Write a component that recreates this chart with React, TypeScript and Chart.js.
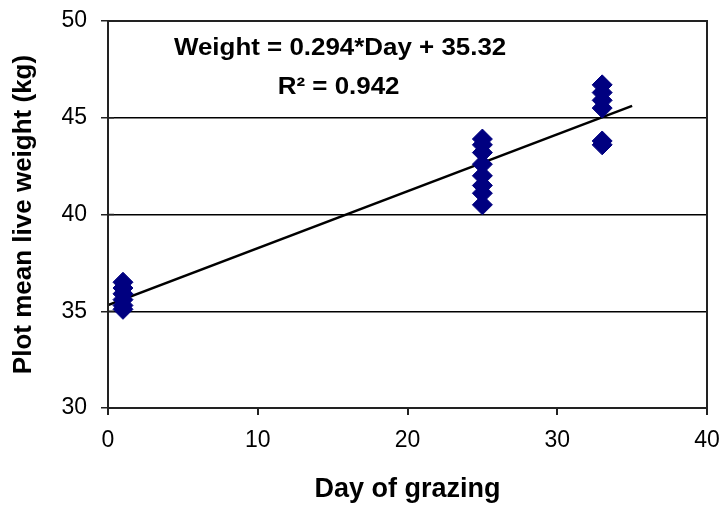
import React, { useEffect, useRef } from "react";
import { Chart, registerables } from "chart.js";

Chart.register(...registerables);

const day1Values = [36.5, 36.2, 35.9, 35.6, 35.3, 35.1];
const day25Values = [43.9, 43.6, 43.2, 42.6, 42.0, 41.5, 41.1, 40.5];
const day33Values = [46.7, 46.3, 45.9, 45.5, 43.8, 43.6];
const days = [1, 25, 33];
const trendX = [0, 35];
const trendY = [35.32, 45.61];
const xTicks = [0, 10, 20, 30, 40];
const yTicks = [30, 35, 40, 45, 50];
const equationText = "Weight = 0.294*Day + 35.32";
const r2Text = "R\u00B2 = 0.942";

const FONT = "'Liberation Sans', Arial, sans-serif";
const MARKER = "#000080";

export default function App() {
  const ref = useRef<HTMLCanvasElement | null>(null);

  useEffect(() => {
    if (!ref.current) return;
    const groups = [day1Values, day25Values, day33Values];
    const points: { x: number; y: number }[] = [];
    groups.forEach((vals, i) => vals.forEach((v) => points.push({ x: days[i], y: v })));
    const trend = trendX.map((x, i) => ({ x, y: trendY[i] }));

    const overlay = {
      id: "overlay",
      afterDraw(chart: any) {
        const { ctx, chartArea, scales } = chart;
        ctx.save();
        ctx.strokeStyle = "#222";
        ctx.lineWidth = 2;
        ctx.strokeRect(chartArea.left, chartArea.top, chartArea.right - chartArea.left, chartArea.bottom - chartArea.top);
        ctx.lineWidth = 1.5;
        yTicks.forEach((v) => {
          const py = scales.y.getPixelForValue(v);
          ctx.beginPath();
          ctx.moveTo(chartArea.left, py);
          ctx.lineTo(chartArea.left + 6, py);
          ctx.stroke();
        });
        ctx.fillStyle = "#000";
        ctx.textAlign = "center";
        ctx.textBaseline = "middle";
        ctx.font = `bold 24px ${FONT}`;
        const drawStretched = (t: string, x: number, y: number) => {
          ctx.save();
          ctx.translate(x, y);
          ctx.scale(1.08, 1);
          ctx.fillText(t, 0, 0);
          ctx.restore();
        };
        drawStretched(equationText, scales.x.getPixelForValue(15.5), scales.y.getPixelForValue(48.6));
        drawStretched(r2Text, scales.x.getPixelForValue(15.4), scales.y.getPixelForValue(46.55));
        ctx.restore();
      },
    };

    const chart = new Chart(ref.current, {
      type: "scatter",
      data: {
        datasets: [
          {
            type: "line",
            data: trend,
            borderColor: "#000",
            borderWidth: 2.5,
            pointRadius: 0,
            fill: false,
            order: 2,
          } as any,
          {
            data: points,
            pointStyle: "rectRot",
            pointRadius: 10,
            backgroundColor: MARKER,
            borderColor: MARKER,
            borderWidth: 1,
            order: 1,
          },
        ],
      },
      options: {
        animation: false,
        responsive: false,
        layout: { padding: { top: 21, right: 13, left: 0, bottom: 0 } },
        plugins: { legend: { display: false }, tooltip: { enabled: false } },
        scales: {
          x: {
            type: "linear",
            min: 0,
            max: 40,
            afterBuildTicks: (s: any) => { s.ticks = xTicks.map((v) => ({ value: v })); },
            afterFit: (s: any) => { s.height = 100; s.paddingLeft = 0; s.paddingRight = 0; },
            grid: { drawOnChartArea: false, drawTicks: true, tickLength: 7, tickColor: "#222", lineWidth: 2 },
            border: { color: "#222", width: 2 },
            ticks: { color: "#000", font: { family: FONT, size: 23 }, padding: 12, maxRotation: 0 },
            title: { display: true, text: "Day of grazing", color: "#000", font: { family: FONT, size: 27, weight: "bold" }, padding: { top: 0, bottom: 2 } },
          },
          y: {
            type: "linear",
            min: 30,
            max: 50,
            afterBuildTicks: (s: any) => { s.ticks = yTicks.map((v) => ({ value: v })); },
            afterFit: (s: any) => { s.width = 108; s.paddingTop = 0; s.paddingBottom = 0; },
            grid: { color: "#000", lineWidth: 1.5, drawTicks: true, tickLength: 7, tickColor: "#222" },
            border: { color: "#222", width: 2 },
            ticks: { color: "#000", font: { family: FONT, size: 23 }, padding: 14 },
            title: { display: true, text: "Plot mean live weight (kg)", color: "#000", font: { family: FONT, size: 26, weight: "bold" }, padding: { top: 8, bottom: 0 } },
          },
        },
      },
      plugins: [overlay],
    });
    return () => chart.destroy();
  }, []);

  return (
    <div style={{ position: "absolute", left: 0, top: 0, width: 720, height: 508, background: "#fff" }}>
      <canvas ref={ref} width={720} height={508} />
    </div>
  );
}
